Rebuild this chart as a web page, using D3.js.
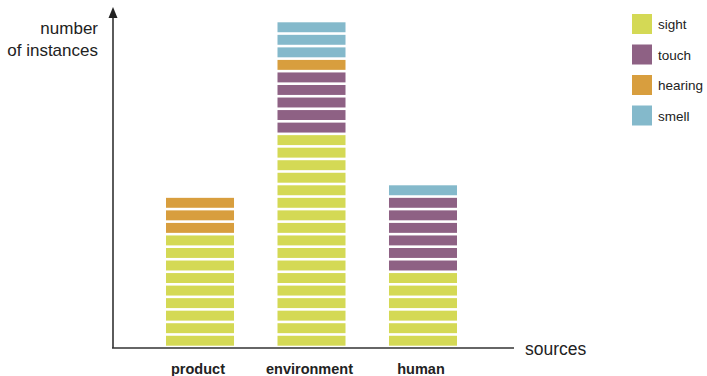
<!DOCTYPE html>
<html><head><meta charset="utf-8">
<script src="https://cdn.jsdelivr.net/npm/d3@7"></script>
<style>body{margin:0;background:#fff}svg{display:block;font-family:"Liberation Sans",Arial,Helvetica,sans-serif}</style>
</head><body><svg id="c" width="707" height="376"></svg>
<script>
const categories = ["product", "environment", "human"];
const senses = ["sight", "touch", "hearing", "smell"];
const sight = [9, 17, 6];
const touch = [0, 5, 6];
const hearing = [3, 1, 0];
const smell = [0, 3, 1];
const colors = ["#d4d955", "#8e6184", "#d89e3e", "#84b9cb"];

const svg = d3.select("#c");
const series = {sight, touch, hearing, smell};
const x = d3.scaleBand().domain(categories).range([166, 457]).paddingInner(0.39).paddingOuter(0);
const y = d3.scaleLinear().domain([0, 26]).range([347, 21]);
const color = d3.scaleOrdinal().domain(senses).range(colors);

const blocks = [];
categories.forEach((c, ci) => {
  let k = 0;
  senses.forEach(s => {
    for (let i = 0; i < series[s][ci]; i++) { blocks.push({c, s, k}); k++; }
  });
});
const gap = 2.6;
svg.append("g").selectAll("rect").data(blocks).join("rect")
  .attr("x", d => x(d.c))
  .attr("width", x.bandwidth())
  .attr("y", d => y(d.k + 1) + gap / 2)
  .attr("height", d => y(d.k) - y(d.k + 1) - gap)
  .attr("fill", d => color(d.s));

svg.append("line").attr("x1", 112).attr("x2", 514).attr("y1", 348).attr("y2", 348)
  .attr("stroke", "#333").attr("stroke-width", 1.6);
svg.append("line").attr("x1", 113).attr("x2", 113).attr("y1", 348).attr("y2", 16)
  .attr("stroke", "#333").attr("stroke-width", 1.6);
svg.append("path").attr("d", "M113,7 L108.5,18 L117.5,18 Z").attr("fill", "#222");

svg.append("g").selectAll("text").data(categories).join("text")
  .attr("x", d => x(d) + x.bandwidth() / 2 - 2).attr("y", 374)
  .attr("text-anchor", "middle").attr("font-size", 14.5).attr("font-weight", "bold").attr("fill", "#222")
  .text(d => d);

svg.append("text").attr("x", 525).attr("y", 355).attr("font-size", 17.5).attr("fill", "#222").text("sources");
svg.append("text").attr("x", 98).attr("y", 34).attr("text-anchor", "end").attr("font-size", 17).attr("fill", "#222").text("number");
svg.append("text").attr("x", 98).attr("y", 56).attr("text-anchor", "end").attr("font-size", 17).attr("fill", "#222").text("of instances");

const lg = svg.append("g").selectAll("g").data(senses).join("g")
  .attr("transform", (d, i) => `translate(632,${14 + i * 30.5})`);
lg.append("rect").attr("width", 20).attr("height", 20).attr("fill", d => color(d));
lg.append("text").attr("x", 26).attr("y", 15).attr("font-size", 13.5).attr("fill", "#222").text(d => d);
</script></body></html>
